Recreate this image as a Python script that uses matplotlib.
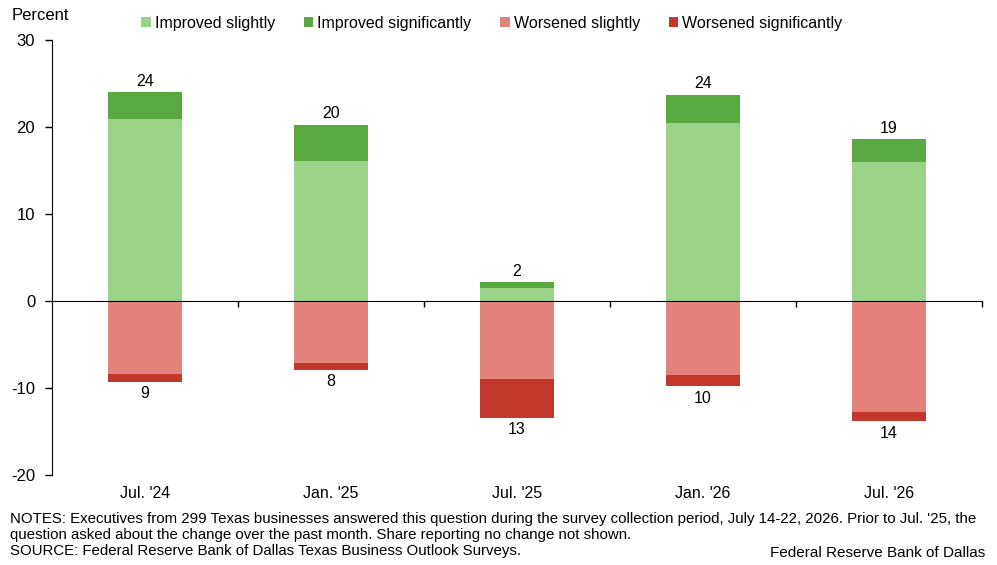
import numpy as np
import matplotlib.pyplot as plt
import matplotlib.transforms as mtransforms

plt.rcParams['font.family'] = ['Liberation Sans', 'DejaVu Sans']
plt.rcParams['axes.unicode_minus'] = False

# Data (percent of respondents)
periods = ["Jul. '24", "Jan. '25", "Jul. '25", "Jan. '26", "Jul. '26"]
improved_slightly = [20.9, 16.1, 1.5, 20.5, 16.0]
improved_significantly = [3.1, 4.2, 0.7, 3.2, 2.6]
worsened_slightly = [8.4, 7.1, 9.0, 8.5, 12.7]
worsened_significantly = [0.9, 0.8, 4.4, 1.3, 1.1]

note_lines = [
    "NOTES: Executives from 299 Texas businesses answered this question during the "
    "survey collection period, July 14-22, 2026. Prior to Jul. '25, the",
    "question asked about the change over the past month. Share reporting no change "
    "not shown.",
    "SOURCE: Federal Reserve Bank of Dallas Texas Business Outlook Surveys.",
]

colors = {
    'imp_s': '#9AD387',
    'imp_g': '#5AA840',
    'wor_s': '#E3817B',
    'wor_g': '#C3372D',
}

def make_plot():
    fig = plt.figure(figsize=(9.97, 5.65), dpi=100)
    H = 565.0
    ax = fig.add_axes([0.052, 0.159, 0.933, 0.770])

    x = np.arange(len(periods))
    w = 0.40
    imp_s = np.array(improved_slightly)
    imp_g = np.array(improved_significantly)
    wor_s = np.array(worsened_slightly)
    wor_g = np.array(worsened_significantly)

    ax.bar(x, imp_s, w, color=colors['imp_s'], label='Improved slightly', zorder=2)
    ax.bar(x, imp_g, w, bottom=imp_s, color=colors['imp_g'],
           label='Improved significantly', zorder=2)
    ax.bar(x, -wor_s, w, color=colors['wor_s'], label='Worsened slightly', zorder=2)
    ax.bar(x, -wor_g, w, bottom=-wor_s, color=colors['wor_g'],
           label='Worsened significantly', zorder=2)

    # totals above / below the bars
    up = imp_s + imp_g
    down = wor_s + wor_g
    for xi, u, d in zip(x, up, down):
        ax.text(xi, u + 0.4, "{:.0f}".format(u), ha='center', va='bottom', fontsize=11.5)
        ax.text(xi, -d - 0.5, "{:.0f}".format(d), ha='center', va='top', fontsize=11.5)

    ax.set_xlim(-0.5, 4.5)
    ax.set_ylim(-20, 30)
    ax.set_yticks([-20, -10, 0, 10, 20, 30])
    ax.tick_params(axis='y', direction='out', length=5, width=1, labelsize=12, pad=7)

    ax.spines['top'].set_visible(False)
    ax.spines['right'].set_visible(False)
    ax.spines['bottom'].set_position(('data', 0))
    ax.spines['bottom'].set_zorder(3)
    ax.set_xticks(np.arange(0.5, 4.6, 1.0))
    ax.set_xticklabels([])
    ax.tick_params(axis='x', direction='out', length=4, width=1)

    # category labels below the plot area
    trans = mtransforms.blended_transform_factory(ax.transData, ax.transAxes)
    for xi, lab in zip(x, periods):
        ax.text(xi, -0.042, lab, transform=trans, ha='center', va='center', fontsize=11.5)

    fig.text(0.012, 1 - 15 / H, 'Percent', ha='left', va='center', fontsize=12)

    ax.legend(loc='center', bbox_to_anchor=(0.473, 1 + 17 / 435), ncol=4, frameon=False,
              handlelength=0.6, handleheight=0.6, handletextpad=0.25,
              columnspacing=1.8, fontsize=11.5)

    for i, line in enumerate(note_lines):
        fig.text(0.010, 1 - (519 + 16 * i) / H, line, ha='left', va='center', fontsize=10.8)
    fig.text(0.988, 1 - 553 / H, 'Federal Reserve Bank of Dallas', ha='right',
             va='center', fontsize=11)

    fig.savefig('out.png', dpi=100)

if __name__ == '__main__':
    make_plot()
